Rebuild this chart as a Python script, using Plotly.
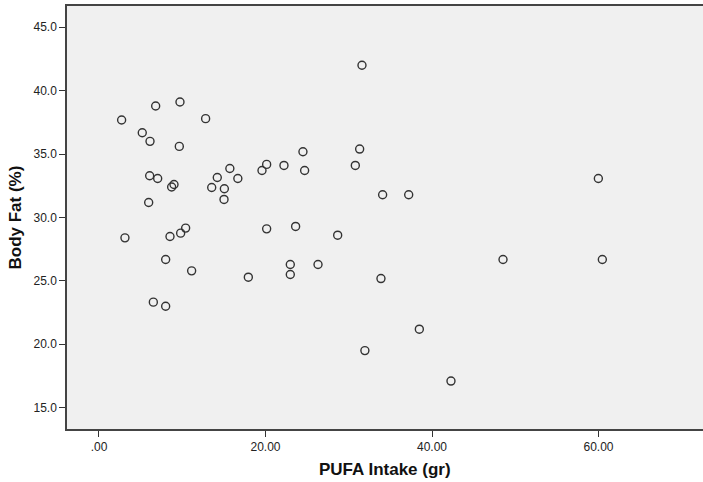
import plotly.graph_objects as go

pufa_intake = [2.72, 6.81, 9.73, 12.81, 5.2, 6.13, 9.65, 6.09, 7.05, 8.73,
               9.01, 5.97, 13.54, 14.21, 15.06, 15.02, 15.72, 16.68, 3.12, 8.53,
               9.81, 10.41, 8.01, 11.13, 6.53, 8.01, 31.59, 24.5, 31.31, 20.14,
               19.58, 22.22, 24.7, 30.79, 34.07, 37.2, 20.14, 23.62, 28.67, 17.94,
               22.98, 22.98, 26.31, 33.87, 38.48, 31.94, 42.28, 59.98, 48.53, 60.46]
body_fat = [37.68, 38.79, 39.1, 37.79, 36.68, 36.0, 35.6, 33.29, 33.07, 32.4,
            32.6, 31.18, 32.36, 33.15, 32.26, 31.42, 33.86, 33.07, 28.39, 28.5,
            28.76, 29.16, 26.68, 25.79, 23.32, 23.0, 42.0, 35.18, 35.39, 34.18,
            33.7, 34.1, 33.7, 34.1, 31.79, 31.79, 29.1, 29.29, 28.6, 25.29,
            26.29, 25.5, 26.29, 25.18, 21.19, 19.5, 17.1, 33.07, 26.68, 26.68]

x_tick_vals = [0, 20, 40, 60]
x_tick_text = [".00", "20.00", "40.00", "60.00"]
y_tick_vals = [15, 20, 25, 30, 35, 40, 45]
y_tick_text = ["15.0", "20.0", "25.0", "30.0", "35.0", "40.0", "45.0"]
x_title = "PUFA Intake (gr)"
y_title = "Body Fat (%)"

fig = go.Figure()
fig.add_trace(go.Scatter(
    x=pufa_intake, y=body_fat, mode="markers",
    marker=dict(symbol="circle-open", size=8, color="#333333",
                line=dict(width=1.4, color="#333333")),
    showlegend=False, hoverinfo="x+y"))

axis_font = dict(family="Liberation Sans, Arial, sans-serif", size=12, color="#222222")
title_font = dict(family="Liberation Sans, Arial, sans-serif", size=17, color="#111111")

fig.update_layout(
    width=703, height=482,
    margin=dict(l=67, r=0, t=6, b=53, autoexpand=False),
    paper_bgcolor="white",
    plot_bgcolor="#f0f0f0",
    xaxis=dict(
        range=[-3.84, 72.55], tickvals=x_tick_vals, ticktext=x_tick_text,
        showgrid=False, zeroline=False, automargin=False,
        showline=True, linecolor="#444444", linewidth=1.5, mirror=True,
        ticks="outside", ticklen=6, tickwidth=1.3, tickcolor="#333333",
        tickfont=axis_font,
    ),
    yaxis=dict(
        range=[13.32, 46.67], tickvals=y_tick_vals, ticktext=y_tick_text,
        showgrid=False, zeroline=False, automargin=False,
        showline=True, linecolor="#444444", linewidth=1.5, mirror=False,
        ticks="outside", ticklen=6, tickwidth=1.3, tickcolor="#333333",
        tickfont=axis_font,
    ),
    annotations=[
        dict(text="<b>" + x_title + "</b>", xref="paper", yref="paper",
             x=0.5, y=0, xanchor="center", yanchor="middle", yshift=-40,
             showarrow=False, font=title_font),
        dict(text="<b>" + y_title + "</b>", xref="paper", yref="paper",
             x=0, y=0.5, xanchor="center", yanchor="middle", xshift=-52,
             textangle=-90, showarrow=False, font=title_font),
    ],
)

fig.write_html("out.html", config={"displayModeBar": False},
               post_script="document.body.style.margin='0';document.body.style.overflow='hidden';")
